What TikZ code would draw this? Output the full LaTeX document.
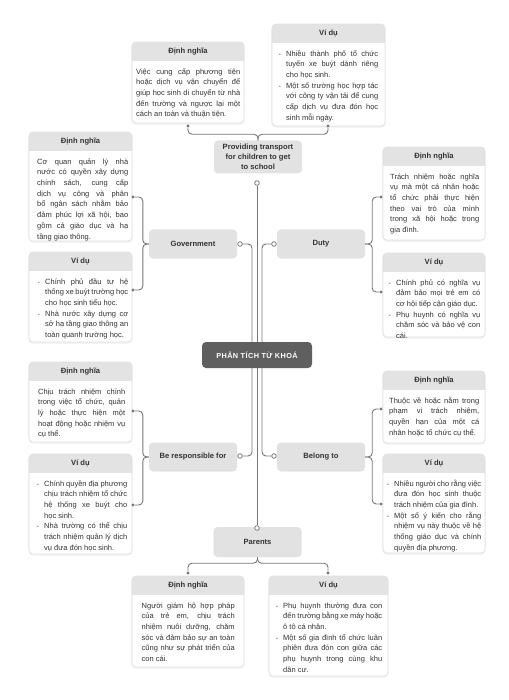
\documentclass[tikz,border=0pt]{standalone}
\usepackage{fontspec}
\setmainfont{Liberation Sans}
\newfontfamily\spacedfont[LetterSpace=6]{Liberation Sans}
\definecolor{connc}{HTML}{777777}
\definecolor{nodec}{HTML}{E2E2E2}
\definecolor{headc}{HTML}{E3E3E3}
\definecolor{edgec}{HTML}{E0E0E0}
\definecolor{ctrc}{HTML}{5F5F5F}
\definecolor{textc}{HTML}{333333}
\hyphenpenalty=10000
\exhyphenpenalty=10000
\tolerance=9999
\emergencystretch=30pt
\hbadness=10000
\hfuzz=5pt
\newcommand{\brk}{\linebreak}
\newcommand{\bodyfont}{\fontsize{7.5}{10.7}\selectfont\setlength\parindent{0pt}}
\newcommand{\titlefont}{\fontsize{7.6}{10}\selectfont\bfseries}
\newcommand{\bitem}[1]{\hangindent=7pt\hangafter=1\noindent\makebox[7pt][l]{{\fontsize{5}{5}\selectfont\textcolor{connc}{•}}}#1\par}
\tikzset{
  conn/.style={draw=connc, line width=0.9pt, rounded corners=4pt},
  port/.style={circle, draw=connc, fill=white, line width=0.8pt, inner sep=0pt, minimum size=4.6pt},
  dotp/.style={circle, fill=connc, inner sep=0pt, minimum size=3.4pt},
  keynode/.style={fill=nodec, rounded corners=4pt, minimum width=88pt, minimum height=29pt, inner sep=2pt, align=center, font=\titlefont, text=textc},
  cardtext/.style={inner sep=0pt, text width=#1, align=justify, font=\bodyfont, text=textc, anchor=north west},
  cardtitle/.style={font=\titlefont, text=textc, inner sep=0pt},
  cardedge/.style={draw=edgec, line width=0.6pt},
}
\newcommand{\mkcard}[9]{%
  \fill[black!6, rounded corners=4.5pt] ({#2-0.6},{#3+0.3}) rectangle ({#2+#4+0.6},{#3+#5+1.6});
  \fill[white, rounded corners=4pt] (#2,#3) rectangle ({#2+#4},{#3+#5});
  \begin{scope}
    \clip[rounded corners=4pt] (#2,#3) rectangle ({#2+#4},{#3+#5});
    \fill[headc] (#2,#3) rectangle ({#2+#4},{#3+19});
  \end{scope}
  \draw[cardedge, rounded corners=4pt] (#2,#3) rectangle ({#2+#4},{#3+#5});
  \node[cardtitle] (#1h) at ({#2+#4/2},{#3+9.5}) {#6};
  \node[cardtext=#8pt] (#1) at (#7,{#3+24.5}) {\strut#9};
}
\begin{document}
\begin{tikzpicture}[x=1pt,y=-1pt]
\useasboundingbox[fill=white] (0,0) rectangle (508,700);

% ---------- cards ----------
\mkcard{t1}{132}{42}{112}{81}{Định nghĩa}{136}{104}{Việc cung cấp phương tiện\brk hoặc dịch vụ vận chuyển để\brk giúp học sinh di chuyển từ nhà\brk đến trường và ngược lại một\brk cách an toàn và thuận tiện.}
\mkcard{t2}{272}{24}{113}{102}{Ví dụ}{279}{99}{\bitem{Nhiều thành phố tổ chức\brk tuyến xe buýt dành riêng\brk cho học sinh.}\bitem{Một số trường học hợp tác\brk với công ty vận tải để cung\brk cấp dịch vụ đưa đón học\brk sinh mỗi ngày.}}
\mkcard{g1}{29}{132}{103}{109}{Định nghĩa}{37}{91}{Cơ quan quản lý nhà\brk nước có quyền xây dựng\brk chính sách, cung cấp\brk dịch vụ công và phân\brk bổ ngân sách nhằm bảo\brk đảm phúc lợi xã hội, bao\brk gồm cả giáo dục và hạ\brk tầng giao thông.}
\mkcard{g2}{29}{252}{103}{90}{Ví dụ}{38}{90}{\bitem{Chính phủ đầu tư hệ\brk thống xe buýt trường học\brk cho học sinh tiểu học.}\bitem{Nhà nước xây dựng cơ\brk sở hạ tầng giao thông an\brk toàn quanh trường học.}}
\mkcard{d1}{383}{147}{102}{93}{Định nghĩa}{390}{89}{Trách nhiệm hoặc nghĩa\brk vụ mà một cá nhân hoặc\brk tổ chức phải thực hiện\brk theo vai trò của mình\brk trong xã hội hoặc trong\brk gia đình.}
\mkcard{d2}{383}{253}{102}{84}{Ví dụ}{389}{91}{\bitem{Chính phủ có nghĩa vụ\brk đảm bảo mọi trẻ em có\brk cơ hội tiếp cận giáo dục.}\bitem{Phụ huynh có nghĩa vụ\brk chăm sóc và bảo vệ con\brk cái.}}
\mkcard{r1}{29}{362}{103}{80}{Định nghĩa}{38}{87}{Chịu trách nhiệm chính\brk trong việc tổ chức, quản\brk lý hoặc thực hiện một\brk hoạt động hoặc nhiệm vụ\brk cụ thể.}
\mkcard{r2}{29}{454}{103}{100}{Ví dụ}{37}{90}{\bitem{Chính quyền địa phương\brk chịu trách nhiệm tổ chức\brk hệ thống xe buýt cho\brk học sinh.}\bitem{Nhà trường có thể chịu\brk trách nhiệm quản lý dịch\brk vụ đưa đón học sinh.}}
\mkcard{b1}{383}{371}{102}{72}{Định nghĩa}{389}{90}{Thuộc về hoặc nằm trong\brk phạm vi trách nhiệm,\brk quyền hạn của một cá\brk nhân hoặc tổ chức cụ thể.}
\mkcard{b2}{383}{454}{102}{99}{Ví dụ}{387}{94}{\bitem{Nhiều người cho rằng việc\brk đưa đón học sinh thuộc\brk trách nhiệm của gia đình.}\bitem{Một số ý kiến cho rằng\brk nhiệm vụ này thuộc về hệ\brk thống giáo dục và chính\brk quyền địa phương.}}
\mkcard{p1}{132}{576}{112}{91}{Định nghĩa}{141.5}{93}{Người giám hộ hợp pháp\brk của trẻ em, chịu trách\brk nhiệm nuôi dưỡng, chăm\brk sóc và đảm bảo sự an toàn\brk cũng như sự phát triển của\brk con cái.}
\mkcard{p2}{269}{576}{119}{100}{Ví dụ}{276}{106}{\bitem{Phụ huynh thường đưa con\brk đến trường bằng xe máy hoặc\brk ô tô cá nhân.}\bitem{Một số gia đình tổ chức luân\brk phiên đưa đón con giữa các\brk phụ huynh trong cùng khu\brk dân cư.}}

% ---------- card ports ----------
\node[dotp] (t1p) at (188,126) {};
\node[dotp] (t2p) at (328,126) {};
\node[dotp] (g1p) at (133,197) {};
\node[dotp] (g2p) at (133,290) {};
\node[dotp] (d1p) at (381,197) {};
\node[dotp] (d2p) at (381,292) {};
\node[dotp] (r1p) at (133,411) {};
\node[dotp] (r2p) at (133,505) {};
\node[dotp] (b1p) at (381,409) {};
\node[dotp] (b2p) at (381,504) {};
\node[dotp] (p1p) at (188,573) {};
\node[dotp] (p2p) at (328,573) {};

% ---------- key nodes ----------
\node[keynode, minimum height=33pt] (prov) at (258,157) {Providing transport\\for children to get\\to school};
\node[keynode] (gov) at (193,244) {Government};
\node[keynode] (duty) at (321,244) {Duty};
\node[keynode] (resp) at (193,457) {Be responsible for};
\node[keynode] (bel) at (321,457) {Belong to};
\node[keynode, minimum height=30pt] (par) at (257.5,542) {Parents};

% ---------- key to card connectors ----------
\draw[conn] (prov.north) -- ++(0,-6) -| (t1p);
\draw[conn] (prov.north) -- ++(0,-6) -| (t2p);
\draw[conn] (gov.west) -- ++(-6,0) |- (g1p);
\draw[conn] (gov.west) -- ++(-6,0) |- (g2p);
\draw[conn] (duty.east) -- ++(7,0) |- (d1p);
\draw[conn] (duty.east) -- ++(7,0) |- (d2p);
\draw[conn] (resp.west) -- ++(-6,0) |- (r1p);
\draw[conn] (resp.west) -- ++(-6,0) |- (r2p);
\draw[conn] (bel.east) -- ++(7,0) |- (b1p);
\draw[conn] (bel.east) -- ++(7,0) |- (b2p);
\draw[conn] (par.south) -- ++(0,6) -| (p1p);
\draw[conn] (par.south) -- ++(0,6) -| (p2p);

% ---------- centre ----------
\node[port] (provp) at (257,183) {};
\node[port] (govp) at (240,244) {};
\node[port] (dutyp) at (274,244) {};
\node[port] (respp) at (240,456) {};
\node[port] (belp) at (274,456) {};
\node[port] (parp) at (257,528) {};
\coordinate (cN) at (257,343);
\coordinate (cS) at (257,367);
\draw[conn] (cN) -- (provp);
\draw[conn] (cS) -- (parp);
\draw[conn] ([xshift=-5pt]cN) |- (govp);
\draw[conn] ([xshift=5pt]cN) |- (dutyp);
\draw[conn] ([xshift=-5pt]cS) |- (respp);
\draw[conn] ([xshift=5pt]cS) |- (belp);
\node[fill=ctrc, rounded corners=4pt, minimum width=110pt, minimum height=26pt, inner sep=2pt, text=white, font=\spacedfont\bfseries\fontsize{7.3}{9}\selectfont] (ctr) at (257,355) {PHÂN TÍCH TỪ KHOÁ};
\end{tikzpicture}
\end{document}
